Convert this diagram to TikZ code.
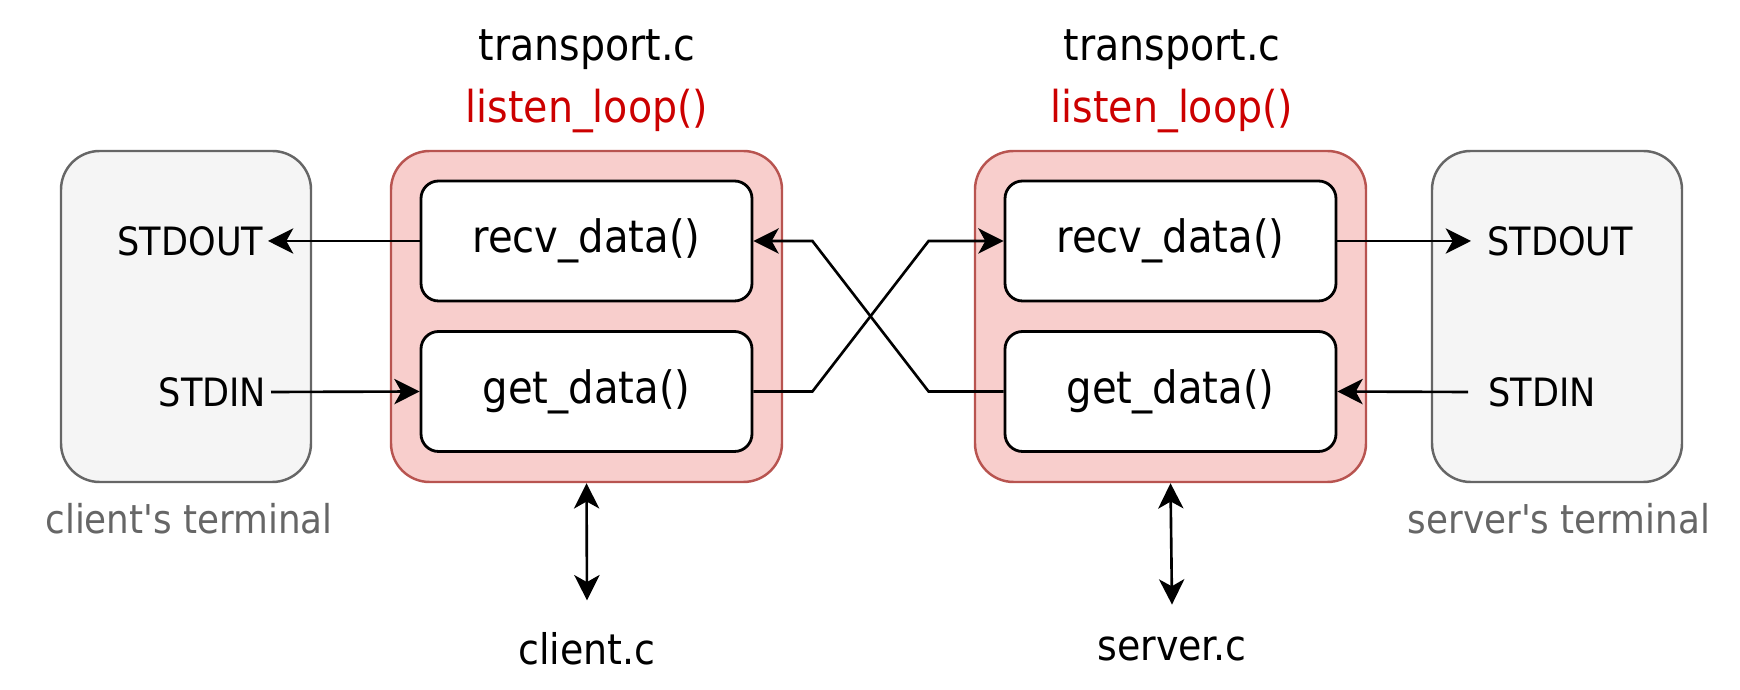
\documentclass[tikz,border=0pt]{standalone}
\usepackage{fontspec}
\setmainfont{DejaVu Sans Condensed}
\usetikzlibrary{arrows.meta,positioning}
\definecolor{termfill}{HTML}{F5F5F5}
\definecolor{termdraw}{HTML}{666666}
\definecolor{trfill}{HTML}{F8CECC}
\definecolor{trdraw}{HTML}{B85450}
\definecolor{loopred}{HTML}{CC0000}
\begin{document}
\begin{tikzpicture}[>={Stealth[length=7.2pt,width=7.2pt,inset=2pt]},line width=0.75pt,
    term/.style={draw=termdraw, fill=termfill, line width=0.7pt, rounded corners=11pt,
      minimum width=2.5cm, minimum height=3.31cm},
    transp/.style={draw=trdraw, fill=trfill, line width=0.7pt, rounded corners=11pt,
      minimum width=3.91cm, minimum height=3.31cm},
    func/.style={draw, fill=white, line width=0.8pt, rounded corners=5pt, minimum width=3.31cm,
      minimum height=1.2cm, font=\fontsize{12.7}{15}\selectfont},
    io/.style={inner sep=1pt, font=\fontsize{11.1}{13}\selectfont},
    title/.style={inner sep=0pt, font=\fontsize{12.5}{15}\selectfont},
    termlabel/.style={inner sep=0pt, text=termdraw, font=\fontsize{11.3}{14}\selectfont},
    file/.style={inner sep=0pt, font=\fontsize{12}{14}\selectfont}]
  \useasboundingbox (0,0) rectangle (17.4,6.9);

  % terminals
  \node (t1) [term] at (1.86,3.735) {};
  \node (t2) [term] at (15.57,3.735) {};
  \node [termlabel] at (1.89,1.71) {client\textquotesingle s terminal};
  \node [termlabel] at (15.59,1.71) {server\textquotesingle s terminal};

  % transport boxes
  \node (tr1) [transp] at (5.865,3.735) {};
  \node (tr2) [transp] at (11.705,3.735) {};
  \node [title] at (5.87,6.40) {transport.c};
  \node [title, text=loopred] at (5.87,5.79) {listen\_loop()};
  \node [title] at (11.72,6.40) {transport.c};
  \node [title, text=loopred] at (11.72,5.79) {listen\_loop()};

  \node (recv1) [func] at (5.865,4.49) {recv\_data()};
  \node (get1) [func] at (5.865,2.985) {get\_data()};
  \node (recv2) [func] at (11.705,4.49) {recv\_data()};
  \node (get2) [func] at (11.705,2.985) {get\_data()};

  % stdin / stdout
  \node (out1) [io, anchor=east] at (2.68,4.49) {STDOUT};
  \node (in1) [io, anchor=east] at (2.71,2.98) {STDIN};
  \node (out2) [io, anchor=west, inner sep=4.3pt] at (14.71,4.49) {STDOUT};
  \node (in2) [io, anchor=west, inner sep=5.5pt] at (14.68,2.98) {STDIN};

  \draw [->] (recv1.west) -- (out1.east);
  \draw [->] (in1.east) -- (get1.west);
  \draw [->] (recv2.east) -- (out2.west);
  \draw [->] (in2.west) -- (get2.east);

  % crossing links
  \draw [->] (get1.east) -- ++(0.59,0) -- ([xshift=-0.75cm]recv2.west) -- (recv2.west);
  \draw [->] (get2.west) -- ++(-0.75,0) -- ([xshift=0.59cm]recv1.east) -- (recv1.east);

  % source files
  \node (client) [file] at (5.87,0.41) {client.c};
  \node (server) [file] at (11.72,0.41) {server.c};
  \draw [<->] (tr1.south) -- ([yshift=0.31cm]client.north);
  \draw [<->] (tr2.south) -- ([yshift=0.31cm]server.north);
\end{tikzpicture}
\end{document}
